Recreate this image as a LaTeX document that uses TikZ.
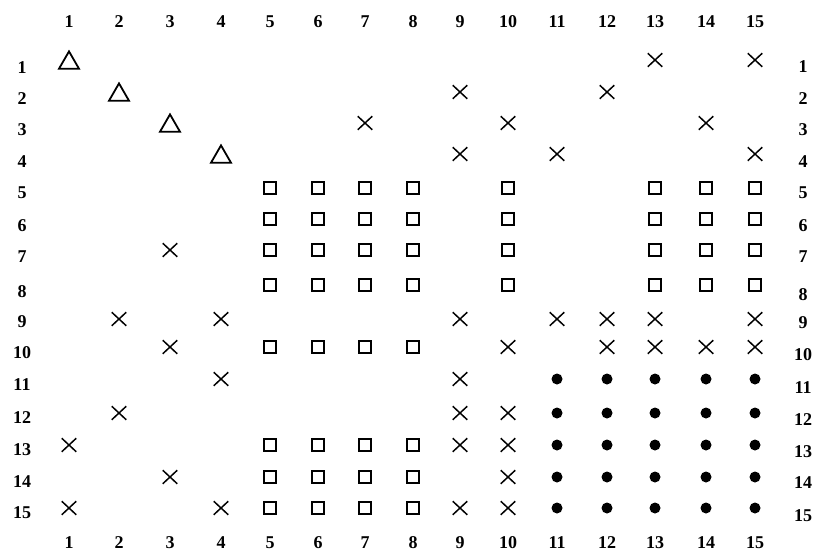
\documentclass[tikz,border=0pt]{standalone}
\usepackage{fontspec}
\newfontfamily\labfont{Liberation Serif}
\usetikzlibrary{shapes.geometric,shapes.misc}
\begin{document}
\begin{tikzpicture}[x=1pt,y=-1pt,
  tri/.style={draw,regular polygon,regular polygon sides=3,minimum size=23pt,inner sep=0pt,line width=1.8pt,yshift=-2.9pt},
  crs/.style={draw,cross out,minimum width=13pt,minimum height=12pt,inner sep=0pt,line width=1.5pt},
  sq/.style={draw,rectangle,minimum size=12.5pt,inner sep=0pt,line width=2.2pt},
  blob/.style={fill,circle,minimum size=11pt,inner sep=0pt},
  lab/.style={font=\labfont\fontsize{18}{22}\selectfont\bfseries,inner sep=0pt}]
\useasboundingbox (0,0) rectangle (818,552);
\def\X{{69,119,170,221,270,318,365,413,460,508,557,607,655,706,755}}
\def\Y{{60,92,123,154,188,219,250,285,319,347,379,413,445,477,508}}
\def\YL{{68,99,130,162,193,226,257,292,322,353,385,418,450,482,513}}
\def\YR{{67,99,130,162,193,226,257,295,323,355,388,420,452,483,516}}
\foreach \r in {1,...,15}{
  \foreach \c in {1,...,15}{
    \pgfmathsetmacro\px{\X[\c-1]}
    \pgfmathsetmacro\py{\Y[\r-1]}
    \coordinate (p\r-\c) at (\px,\py);
  }
}
% column labels
\foreach \c in {1,...,15}{
  \pgfmathsetmacro\px{\X[\c-1]}
  \node[lab] (top\c) at (\px,22) {\c};
  \node[lab] (bot\c) at (\px,543) {\c};
}
% row labels
\foreach \r in {1,...,15}{
  \pgfmathsetmacro\pl{\YL[\r-1]}
  \pgfmathsetmacro\pr{\YR[\r-1]}
  \node[lab] (left\r) at (22,\pl) {\r};
  \node[lab] (right\r) at (803,\pr) {\r};
}
% triangles
\foreach \r/\c in {1/1,2/2,3/3,4/4}
  \node[tri] (t\r-\c) at (p\r-\c) {};
% crosses
\foreach \r/\c in {1/13,1/15,2/9,2/12,3/7,3/10,3/14,4/9,4/11,4/15,7/3,
  9/2,9/4,9/9,9/11,9/12,9/13,9/15,10/3,10/10,10/12,10/13,10/14,10/15,
  11/4,11/9,12/2,12/9,12/10,13/1,13/9,13/10,14/3,14/10,15/1,15/4,15/9,15/10}
  \node[crs] (x\r-\c) at (p\r-\c) {};
% squares
\foreach \r in {5,6,7,8}
  \foreach \c in {5,6,7,8,10,13,14,15}
    \node[sq] (s\r-\c) at (p\r-\c) {};
\foreach \r in {10,13,14,15}
  \foreach \c in {5,6,7,8}
    \node[sq] (s\r-\c) at (p\r-\c) {};
% dots
\foreach \r in {11,...,15}
  \foreach \c in {11,...,15}
    \node[blob] (d\r-\c) at (p\r-\c) {};
\end{tikzpicture}
\end{document}
